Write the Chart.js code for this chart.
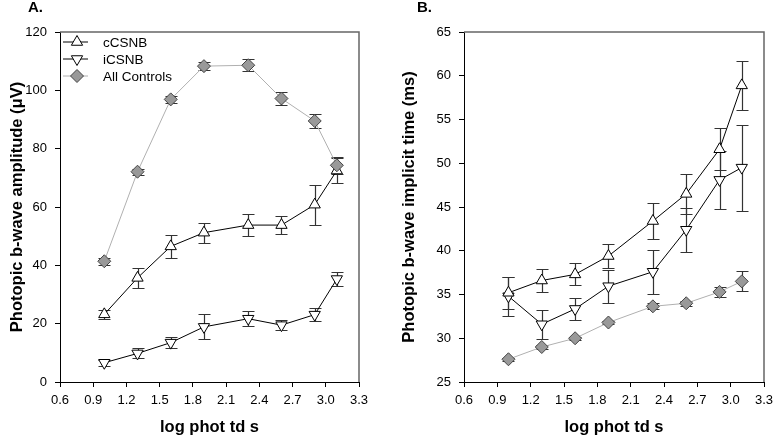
<!DOCTYPE html>
<html>
<head>
<meta charset="utf-8">
<script src="https://cdn.jsdelivr.net/npm/chart.js@4.4.1/dist/chart.umd.min.js"></script>
<style>
html, body { margin: 0; padding: 0; background: #fff; }
#wrap { position: relative; width: 773px; height: 437px; }
#chartA { position: absolute; left: 0; top: 0; }
#chartB { position: absolute; left: 386px; top: 0; }
</style>
</head>
<body>
<div id="wrap">
  <canvas id="chartA" width="386" height="437"></canvas>
  <canvas id="chartB" width="387" height="437"></canvas>
</div>
<script>
// x positions (log phot td s)
const logLum = [1.0, 1.3, 1.6, 1.9, 2.3, 2.6, 2.9, 3.1];
const xTicks = [0.6, 3.3, 0.3]; // min, max, step

// Panel A - amplitude (uV)
const ampCC = [23.2, 35.7, 46.5, 51.2, 53.8, 53.8, 60.8, 72.5];
const ampCCErr = [1.6, 3.5, 3.9, 3.4, 3.9, 3.1, 6.9, 4.4];
const ampIC = [6.6, 9.8, 13.5, 18.9, 21.7, 19.5, 23.1, 35.3];
const ampICErr = [1.1, 1.7, 1.9, 4.3, 2.6, 1.7, 2.2, 2.4];
const ampCtrl = [41.4, 72.1, 96.9, 108.3, 108.6, 97.2, 89.5, 74.3];
const ampCtrlErr = [1.2, 1.1, 1.1, 1.4, 2.1, 2.3, 2.5, 2.9];
const ampTicks = [0, 120, 20];

// Panel B - implicit time (ms)
const latCC = [35.2, 36.6, 37.3, 39.4, 43.4, 46.5, 51.6, 58.9];
const latCCErr = [1.85, 1.35, 1.25, 1.35, 2.1, 2.3, 2.4, 2.8];
const latIC = [34.8, 31.6, 33.35, 35.95, 37.6, 42.4, 48.1, 49.5];
const latICErr = [2.2, 1.65, 1.25, 1.9, 2.5, 2.5, 3.3, 4.9];
const latCtrl = [27.6, 29.0, 30.0, 31.8, 33.65, 34.0, 35.3, 36.5];
const latCtrlErr = [0.15, 0.2, 0.15, 0.2, 0.35, 0.3, 0.55, 1.15];
const latTicks = [25, 65, 5];

const FONT = 'Arial, "Liberation Sans", sans-serif';

function pts(ys) {
    return logLum.map((x, i) => ({ x: x, y: ys[i] }));
}

// error bars drawn under the lines/markers
const errorBars = {
    id: 'errorBars',
    beforeDatasetsDraw(chart) {
        const ctx = chart.ctx, xs = chart.scales.x, ys = chart.scales.y;
        ctx.save();
        ctx.strokeStyle = '#333';
        ctx.lineWidth = 1.2;
        chart.data.datasets.forEach(ds => {
            if (!ds.errors) return;
            ds.data.forEach((p, i) => {
                const x = Math.round(xs.getPixelForValue(p.x)) + 0.5;
                const yTop = Math.round(ys.getPixelForValue(p.y + ds.errors[i])) + 0.5;
                const yBot = Math.round(ys.getPixelForValue(p.y - ds.errors[i])) + 0.5;
                ctx.beginPath();
                ctx.moveTo(x, yTop); ctx.lineTo(x, yBot);
                ctx.moveTo(x - 6, yTop); ctx.lineTo(x + 6, yTop);
                ctx.moveTo(x - 6, yBot); ctx.lineTo(x + 6, yBot);
                ctx.stroke();
            });
        });
        ctx.restore();
    }
};

// top + right frame lines, panel letter, legend
const extras = {
    id: 'extras',
    beforeDatasetsDraw(chart) {
        const ctx = chart.ctx, a = chart.chartArea;
        ctx.save();
        ctx.strokeStyle = '#666';
        ctx.lineWidth = 1.5;
        ctx.beginPath();
        ctx.moveTo(a.left, a.top);
        ctx.lineTo(a.right, a.top);
        ctx.lineTo(a.right, a.bottom);
        ctx.stroke();
        ctx.restore();
    },
    afterDraw(chart, args, opts) {
        const ctx = chart.ctx, a = chart.chartArea;
        ctx.save();
        ctx.fillStyle = '#000';
        ctx.font = 'bold 15px ' + FONT;
        ctx.textBaseline = 'middle';
        ctx.fillText(opts.letter, opts.letterX, 8);
        if (opts.legend) {
            ctx.font = '13.5px ' + FONT;
            chart.data.datasets.forEach((ds, i) => {
                const y = a.top + 10 + i * 17;
                ctx.strokeStyle = ds.borderColor;
                ctx.lineWidth = 1;
                ctx.beginPath();
                ctx.moveTo(a.left + 3, y);
                ctx.lineTo(a.left + 28, y);
                ctx.stroke();
                ctx.fillStyle = ds.pointBackgroundColor;
                ctx.strokeStyle = ds.pointBorderColor;
                Chart.helpers.drawPoint(ctx, {
                    pointStyle: ds.pointStyle,
                    radius: ds.pointRadius,
                    rotation: ds.pointRotation || 0,
                    borderWidth: 1
                }, a.left + 17, y);
                ctx.fillStyle = '#000';
                ctx.fillText(ds.label, a.left + 43, y + 1);
            });
        }
        ctx.restore();
    }
};

function makeChart(id, cc, ccErr, ic, icErr, ctrl, ctrlErr, yTicks, yTitle, yWidth, titlePad, padRight, letter, letterX, legend) {
    return new Chart(document.getElementById(id), {
        type: 'line',
        data: {
            datasets: [{
                label: 'cCSNB',
                data: pts(cc),
                errors: ccErr,
                order: 1,
                borderColor: '#000',
                borderWidth: 1,
                pointStyle: 'triangle',
                pointRadius: 6.5,
                pointBackgroundColor: '#fff',
                pointBorderColor: '#000',
                pointBorderWidth: 1
            }, {
                label: 'iCSNB',
                data: pts(ic),
                errors: icErr,
                order: 2,
                borderColor: '#000',
                borderWidth: 1,
                pointStyle: 'triangle',
                pointRotation: 180,
                pointRadius: 6.5,
                pointBackgroundColor: '#fff',
                pointBorderColor: '#000',
                pointBorderWidth: 1
            }, {
                label: 'All Controls',
                data: pts(ctrl),
                errors: ctrlErr,
                order: 0,
                borderColor: '#b0b0b0',
                borderWidth: 1,
                pointStyle: 'rectRot',
                pointRadius: 6.5,
                pointBackgroundColor: '#999',
                pointBorderColor: '#444',
                pointBorderWidth: 1
            }]
        },
        options: {
            responsive: false,
            animation: false,
            devicePixelRatio: 1,
            layout: { padding: { left: 0, top: 32, right: padRight, bottom: 0 } },
            plugins: {
                legend: { display: false },
                title: { display: false },
                tooltip: { enabled: false },
                extras: { letter: letter, letterX: letterX, legend: legend }
            },
            scales: {
                x: {
                    type: 'linear',
                    min: xTicks[0],
                    max: xTicks[1],
                    ticks: {
                        stepSize: xTicks[2],
                        autoSkip: false,
                        maxRotation: 0,
                        padding: 6,
                        color: '#000',
                        font: { size: 13, family: FONT },
                        callback: v => v.toFixed(1)
                    },
                    grid: { drawOnChartArea: false, tickLength: 5, color: '#000' },
                    border: { display: true, color: '#000', width: 1 },
                    title: {
                        display: true,
                        text: 'log phot td s',
                        color: '#000',
                        font: { size: 16.5, weight: 'bold', family: FONT },
                        padding: { top: 0, bottom: 0 }
                    },
                    afterFit: s => { s.height = 55; s.paddingLeft = 0; s.paddingRight = 0; }
                },
                y: {
                    min: yTicks[0],
                    max: yTicks[1],
                    ticks: {
                        stepSize: yTicks[2],
                        padding: 8,
                        color: '#000',
                        font: { size: 13, family: FONT }
                    },
                    grid: { drawOnChartArea: false, tickLength: 5, color: '#000' },
                    border: { display: true, color: '#000', width: 1 },
                    title: {
                        display: true,
                        text: yTitle,
                        color: '#000',
                        font: { size: 16.5, weight: 'bold', family: FONT },
                        padding: { top: titlePad, bottom: 0 }
                    },
                    afterFit: s => { s.width = yWidth; s.paddingTop = 0; s.paddingBottom = 0; }
                }
            }
        },
        plugins: [errorBars, extras]
    });
}

makeChart('chartA', ampCC, ampCCErr, ampIC, ampICErr, ampCtrl, ampCtrlErr, ampTicks,
    'Photopic b-wave amplitude (\u03bcV)', 60, 8, 27, 'A.', 28, true);
makeChart('chartB', latCC, latCCErr, latIC, latICErr, latCtrl, latCtrlErr, latTicks,
    'Photopic b-wave implicit time (ms)', 78, 14, 9, 'B.', 31, false);
</script>
</body>
</html>
